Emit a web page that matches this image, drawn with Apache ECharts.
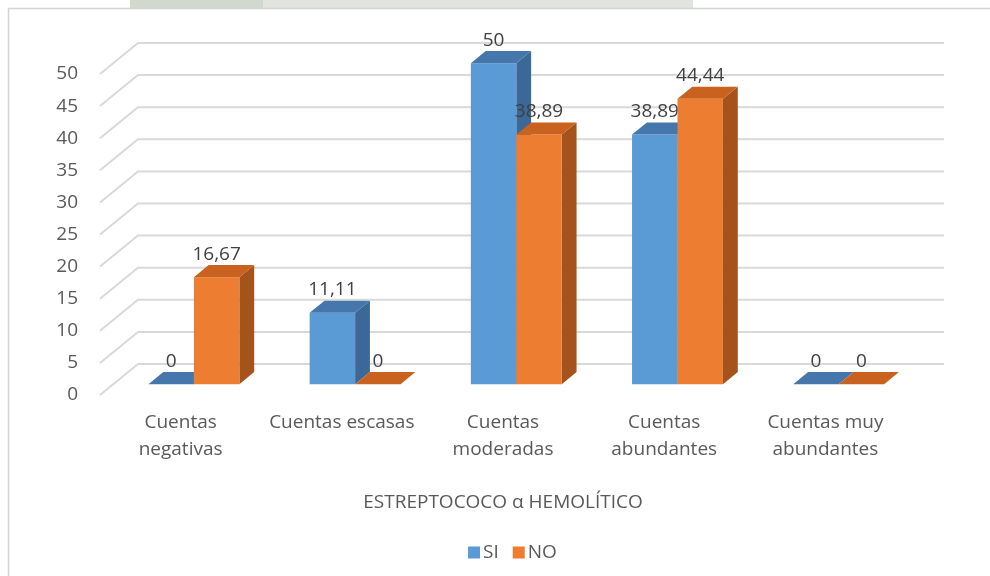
<!DOCTYPE html>
<html>
<head>
<meta charset="utf-8">
<script src="https://cdn.jsdelivr.net/npm/echarts@6/dist/echarts.min.js"></script>
<style>
  html, body { margin: 0; padding: 0; background: #ffffff; }
  #chart { width: 990px; height: 576px; }
</style>
</head>
<body>
<div id="chart"></div>
<script>
// Categories and percentages per group
const categories = ['Cuentas\nnegativas', 'Cuentas escasas', 'Cuentas\nmoderadas', 'Cuentas\nabundantes', 'Cuentas muy\nabundantes'];
const siValues = [0, 11.11, 50, 38.89, 0];
const noValues = [16.67, 0, 38.89, 44.44, 0];
const yTicks = [0, 5, 10, 15, 20, 25, 30, 35, 40, 45, 50];
const seriesNames = ['SI', 'NO'];

// Perspective of the pseudo-3D floor: full depth vector, bar slab position within it
const DEPTH = [38, -31];
const BAR_FRONT = 0.35;
const BAR_BACK = 0.74;
const BAR_FRAC = 0.282; // width of one bar as a share of the category band

const FONT = 'Open Sans';

const palette = [
  { front: '#5b9bd5', top: '#4577ad', side: '#3c6898' },
  { front: '#ed7d31', top: '#c8621e', side: '#a4531c' }
];

function fmt(v) {
  return String(v).replace('.', ',');
}

function barRenderer(seriesIdx) {
  const col = palette[seriesIdx];
  return function (params, api) {
    const idx = api.value(0);
    const val = api.value(1);
    const base = api.coord([idx, 0]);
    const top = api.coord([idx, val]);
    const band = api.size([1, 0])[0];
    const bw = band * BAR_FRAC;
    const fx = DEPTH[0] * BAR_FRONT, fy = DEPTH[1] * BAR_FRONT;
    const dx = DEPTH[0] * (BAR_BACK - BAR_FRONT), dy = DEPTH[1] * (BAR_BACK - BAR_FRONT);
    const cx = base[0] + fx;
    const xl = seriesIdx === 0 ? cx - bw : cx;
    const xr = xl + bw;
    const y0 = base[1] + fy;
    const y1 = top[1] + fy;
    const children = [];
    if (y0 - y1 > 0.5) {
      children.push({
        type: 'polygon',
        shape: { points: [[xr, y1], [xr + dx, y1 + dy], [xr + dx, y0 + dy], [xr, y0]] },
        style: { fill: col.side }
      });
      children.push({
        type: 'rect',
        shape: { x: xl, y: y1, width: bw, height: y0 - y1 },
        style: { fill: col.front }
      });
    }
    children.push({
      type: 'polygon',
      shape: { points: [[xl, y1], [xr, y1], [xr + dx, y1 + dy], [xl + dx, y1 + dy]] },
      style: { fill: col.top }
    });
    children.push({
      type: 'text',
      style: {
        text: fmt(val),
        x: xl + bw / 2,
        y: y1 - 23,
        align: 'center',
        verticalAlign: 'middle',
        fontSize: 19,
        fontFamily: FONT,
        fill: '#404040'
      },
      z2: 10
    });
    return { type: 'group', children: children };
  };
}

// Back wall lines plus the diagonal returns on the left side wall
function gridRenderer(params, api) {
  const v = api.value(1);
  const p = api.coord([0, v]);
  const cs = params.coordSys;
  const x0 = cs.x;
  const y = p[1];
  return {
    type: 'polyline',
    shape: {
      points: [[x0, y], [x0 + DEPTH[0], y + DEPTH[1]], [x0 + cs.width + DEPTH[0], y + DEPTH[1]]]
    },
    style: { stroke: '#d9d9d9', lineWidth: 2, fill: null }
  };
}

const chart = echarts.init(document.getElementById('chart'), null, { renderer: 'canvas' });

chart.setOption({
  backgroundColor: '#ffffff',
  animation: false,
  textStyle: { fontFamily: FONT },
  graphic: [
    { type: 'rect', shape: { x: 130, y: 0, width: 133, height: 8 }, style: { fill: '#d1d8cc' }, z: -1 },
    { type: 'rect', shape: { x: 263, y: 0, width: 430, height: 8 }, style: { fill: '#e2e5df' }, z: -1 },
    { type: 'rect', shape: { x: 8.5, y: 8.5, width: 1000, height: 620 }, style: { fill: 'none', stroke: '#d4d4d4', lineWidth: 1.5 }, z: -1 }
  ],
  grid: { left: 100, right: 84, top: 74, bottom: 181, containLabel: false },
  legend: {
    data: seriesNames,
    left: 463,
    top: 538,
    icon: 'rect',
    itemWidth: 12,
    itemHeight: 12,
    itemGap: 14,
    textStyle: { fontSize: 19, color: '#595959', fontFamily: FONT, padding: [0, 0, 0, -2] }
  },
  xAxis: {
    type: 'category',
    data: categories,
    axisLine: { show: false },
    axisTick: { show: false },
    splitLine: { show: false },
    axisLabel: {
      interval: 0,
      margin: 14,
      fontSize: 19,
      lineHeight: 27,
      color: '#595959',
      fontFamily: FONT
    },
    name: 'ESTREPTOCOCO α HEMOLÍTICO',
    nameLocation: 'middle',
    nameGap: 98,
    nameTextStyle: { fontSize: 19, color: '#595959', fontFamily: FONT }
  },
  yAxis: {
    type: 'value',
    min: 0,
    max: 50,
    interval: 5,
    axisLine: { show: false },
    axisTick: { show: false },
    splitLine: { show: false },
    axisLabel: { margin: 22, fontSize: 19, color: '#595959', fontFamily: FONT }
  },
  series: [
    {
      type: 'custom',
      name: 'grid3d',
      renderItem: gridRenderer,
      data: yTicks.map(function (t) { return [0, t]; }),
      silent: true,
      z: 1
    },
    {
      type: 'custom',
      name: seriesNames[0],
      renderItem: barRenderer(0),
      itemStyle: { color: palette[0].front },
      data: siValues.map(function (v, i) { return [i, v]; }),
      z: 2
    },
    {
      type: 'custom',
      name: seriesNames[1],
      renderItem: barRenderer(1),
      itemStyle: { color: palette[1].front },
      data: noValues.map(function (v, i) { return [i, v]; }),
      z: 3
    }
  ]
});
</script>
</body>
</html>
